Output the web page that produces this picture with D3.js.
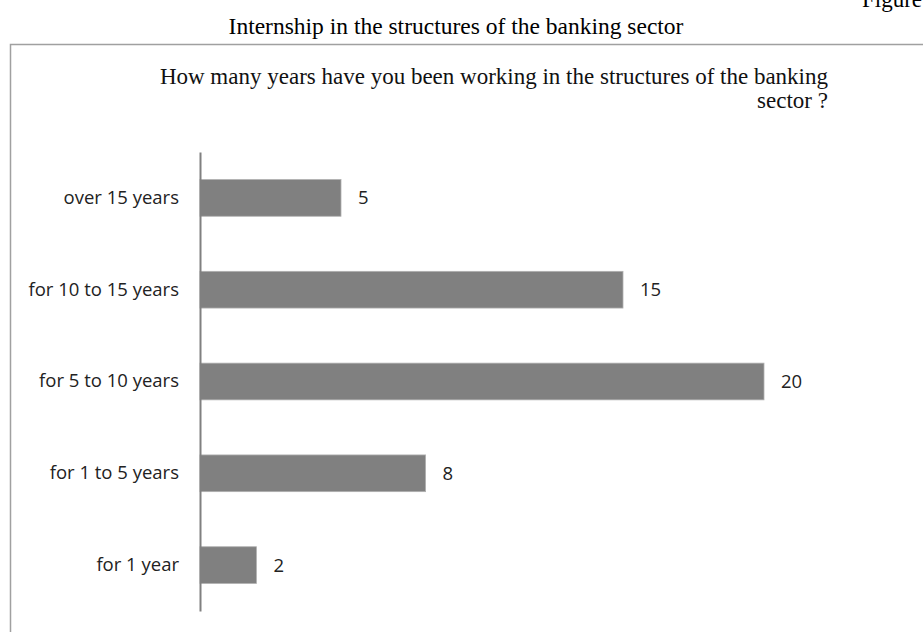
<!DOCTYPE html>
<html>
<head>
<meta charset="utf-8">
<script src="https://cdn.jsdelivr.net/npm/d3@7"></script>
<style>
    html, body { margin: 0; padding: 0; background: #fff; overflow: hidden; }
</style>
</head>
<body>
<div id="chart"></div>
<script>
// Data
const categories = ['over 15 years', 'for 10 to 15 years', 'for 5 to 10 years', 'for 1 to 5 years', 'for 1 year'];
const values = [5, 15, 20, 8, 2];

// Configuration
const config = {
    width: 923,
    height: 632,
    axisX: 200,
    xMax: 20,
    xEnd: 764,
    bandTop: 152,
    bandBottom: 611,
    barColor: '#808080',
    serif: '"Liberation Serif", "Times New Roman", serif',
    sans: '"Open Sans", "Noto Sans", sans-serif'
};

const svg = d3.select('#chart')
    .append('svg')
    .attr('width', config.width)
    .attr('height', config.height);

// Frame (runs off right and bottom edges)
svg.append('rect')
    .attr('x', 10.5)
    .attr('y', 44.5)
    .attr('width', 1000)
    .attr('height', 700)
    .attr('fill', 'none')
    .attr('stroke', '#a0a0a0')
    .attr('stroke-width', 1.5);

// Page text (cut off at the corner, as in the source page)
svg.append('text')
    .attr('x', 862)
    .attr('y', 7)
    .attr('font-family', config.serif)
    .attr('font-size', 23)
    .text('Figure');

svg.append('text')
    .attr('x', 456)
    .attr('y', 34)
    .attr('text-anchor', 'middle')
    .attr('font-family', config.serif)
    .attr('font-size', 23.5)
    .text('Internship in the structures of the banking sector');

// Chart title (two lines)
const title = svg.append('text')
    .attr('font-family', config.serif)
    .attr('font-size', 23)
    .attr('fill', '#111');
title.append('tspan')
    .attr('x', 828).attr('y', 84)
    .attr('text-anchor', 'end')
    .text('How many years have you been working in the structures of the banking');
title.append('tspan')
    .attr('x', 828).attr('y', 108)
    .attr('text-anchor', 'end')
    .text('sector ?');

// Scales
const x = d3.scaleLinear()
    .domain([0, config.xMax])
    .range([config.axisX, config.xEnd]);

const y = d3.scaleBand()
    .domain(categories)
    .range([config.bandTop, config.bandBottom])
    .paddingInner(0.6)
    .paddingOuter(0.3);

// Bars
svg.selectAll('rect.bar')
    .data(values)
    .enter()
    .append('rect')
    .attr('class', 'bar')
    .attr('x', x(0))
    .attr('y', (d, i) => y(categories[i]))
    .attr('width', d => x(d) - x(0))
    .attr('height', y.bandwidth())
    .attr('fill', config.barColor)
    .attr('stroke', '#b0b0b0')
    .attr('stroke-width', 0.8);

// Value labels
svg.selectAll('text.value')
    .data(values)
    .enter()
    .append('text')
    .attr('class', 'value')
    .attr('x', d => x(d) + 17)
    .attr('y', (d, i) => y(categories[i]) + y.bandwidth() / 2)
    .attr('dy', '0.35em')
    .attr('font-family', config.sans)
    .attr('font-size', 18.5)
    .attr('fill', '#222')
    .text(d => d);

// Category axis
const yAxis = d3.axisLeft(y).tickSize(0).tickPadding(21);
const axisG = svg.append('g')
    .attr('transform', `translate(${config.axisX},0)`)
    .call(yAxis);
axisG.select('.domain')
    .attr('stroke', '#808080')
    .attr('stroke-width', 2);
axisG.selectAll('text')
    .attr('font-family', config.sans)
    .attr('font-size', 18.5)
    .attr('fill', '#222');
</script>
</body>
</html>
